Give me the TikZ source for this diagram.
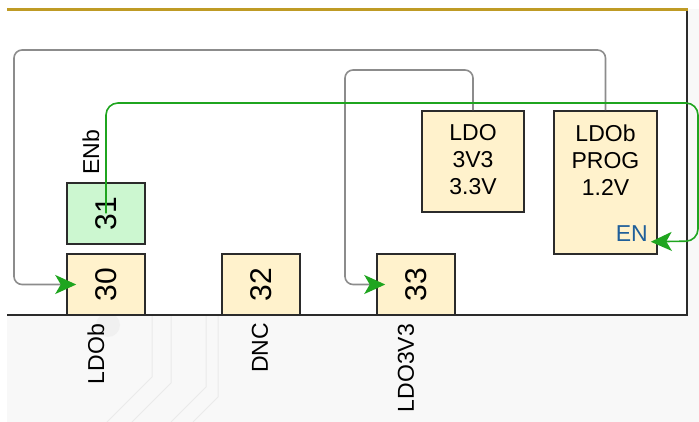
\documentclass[tikz,border=0pt]{standalone}
\usepackage{fontspec}
\setmainfont{Liberation Sans}
\usetikzlibrary{arrows.meta}
\definecolor{pinfill}{HTML}{FFF2CC}
\definecolor{grnfill}{HTML}{CCF7D0}
\definecolor{wiregray}{HTML}{8C8C8C}
\definecolor{grn}{HTML}{1FA51F}
\definecolor{enblue}{HTML}{1F5F9A}
\definecolor{goldline}{HTML}{BF9B25}
\definecolor{pcb}{HTML}{F8F8F8}
\definecolor{tracegray}{HTML}{EAEAEA}
\definecolor{edge}{HTML}{2B2B2B}
\begin{document}
\begin{tikzpicture}[x=1pt,y=-1pt,
  pinbox/.style={draw=edge, line width=1.5pt, fill=pinfill, minimum width=78pt, minimum height=61pt, inner sep=0pt, font=\fontsize{30}{30}\selectfont},
  grnbox/.style={pinbox, fill=grnfill},
  regbox/.style={draw=edge, line width=1.5pt, fill=pinfill, inner sep=0pt},
  boxtext/.style={align=center, inner sep=0pt, font=\fontsize{23}{27}\selectfont},
  lbl/.style={inner sep=0pt, font=\fontsize{23}{23}\selectfont, rotate=90},
  tipgrn/.style={-{Stealth[color=grn,length=21pt,width=19pt,inset=5.5pt]}},
  graywire/.style={draw=wiregray, line width=1.6pt, rounded corners=8pt, tipgrn},
  grnwire/.style={draw=grn, line width=1.6pt, rounded corners=12pt, tipgrn},
  trace/.style={draw=tracegray, line width=1pt}
]
\useasboundingbox (0,0) rectangle (699,422);
% backgrounds
\fill[pcb] (7,315) rectangle (699,422);
\fill[pcb] (688,9) rectangle (699,315);
% faint pcb traces
\fill[black!6] (108,325) circle (12pt);
\draw[trace] (152,316) -- (152,377) -- (107,422);
\draw[trace] (171,316) -- (171,383) -- (132,422);
\draw[trace] (206,316) -- (206,387) -- (171,422);
\draw[trace] (218,316) -- (218,397) -- (193,422);
% header line
\draw[goldline, line width=3pt] (7,10) -- (688,10);
% chip outline
\draw[edge, line width=1.6pt] (7,315) -- (687,315) -- (687,11);
% pin boxes
\node[pinbox] (b30) at (106,284.5) {\rotatebox{90}{30}};
\node[grnbox] (b31) at (106,213.5) {\rotatebox{90}{31}};
\node[pinbox] (b32) at (261,284.5) {\rotatebox{90}{32}};
\node[pinbox] (b33) at (416,284.5) {\rotatebox{90}{33}};
% regulator boxes
\node[regbox, minimum width=102pt, minimum height=101pt] (ldo) at (473,161.5) {};
\node[regbox, minimum width=103pt, minimum height=143pt] (ldob) at (605.5,182.5) {};
\node[boxtext] (ldot) at (473,160) {LDO\\3V3\\3.3V};
\node[boxtext] (ldobt) at (605.5,160) {LDOb\\PROG\\1.2V};
\node[inner sep=0pt, anchor=east, text=enblue, font=\fontsize{23}{23}\selectfont] (en) at (648,234) {EN};
% pin labels
\node[lbl] (lenb) at (91,152) {ENb};
\node[lbl] (lldob) at (96,354) {LDOb};
\node[lbl] (ldnc) at (260,348) {DNC};
\node[lbl] (lldo3) at (406,368) {LDO3V3};
% gray wires
\draw[graywire] (ldob.north) -- (ldob.north |- 0,50) -- (14,50) -- (14,284.5) -- ([xshift=10pt]b30.west);
\draw[graywire] (ldo.north) -- (ldo.north |- 0,70) -- (345,70) -- (345,284.5) -- ([xshift=9pt]b33.west);
% green enable wire
\draw[grnwire] (b31.center) -- (b31.center |- 0,103) -- (698,103) -- (698,241) -- ([xshift=-7pt,yshift=13pt]ldob.south east);
\end{tikzpicture}
\end{document}
